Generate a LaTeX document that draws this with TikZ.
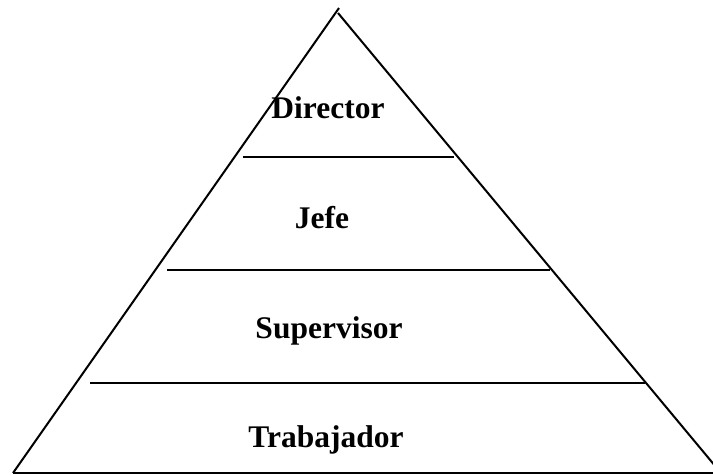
\documentclass[tikz,border=0pt]{standalone}
\usepackage{fontspec}
\setmainfont{Liberation Serif}
\begin{document}
\begin{tikzpicture}[x=1pt,y=-1pt,
  edge/.style={line width=2pt,line cap=butt},
  level/.style={anchor=base,font=\fontsize{31.5}{36}\selectfont\bfseries,inner sep=0pt}]
\clip (0,0) rectangle (713,475);
\useasboundingbox (0,0) rectangle (713,475);
% outline of the pyramid
\coordinate (apexL) at (339,8);
\coordinate (apexR) at (338,13);
\coordinate (baseL) at (13,473);
\coordinate (baseR) at (721,473);
\draw[edge] (apexL) -- (baseL);
\draw[edge] (apexR) -- (baseR);
\draw[edge] (baseL) -- (baseR);
% dividers between the levels
\coordinate (d1a) at (243,157); \coordinate (d1b) at (454,157);
\coordinate (d2a) at (167,270); \coordinate (d2b) at (550,270);
\coordinate (d3a) at (90,383);  \coordinate (d3b) at (645,383);
\draw[edge] (d1a) -- (d1b);
\draw[edge] (d2a) -- (d2b);
\draw[edge] (d3a) -- (d3b);
% level labels
\node[level] (director) at (328,118) {Director};
\node[level] (jefe) at (322,228) {Jefe};
\node[level] (supervisor) at (329,338) {Supervisor};
\node[level] (trabajador) at (326,447) {Trabajador};
\end{tikzpicture}
\end{document}
